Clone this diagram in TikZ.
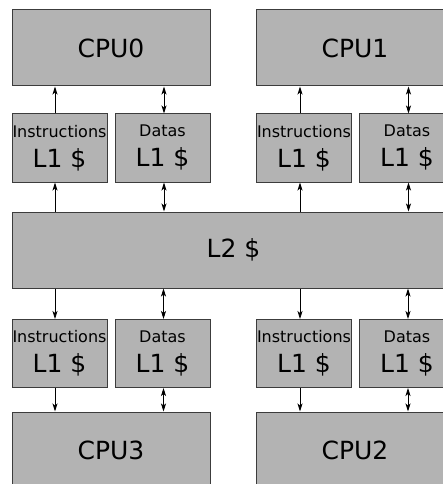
\documentclass[tikz,border=0pt]{standalone}
\usepackage{fontspec}
\setmainfont{DejaVu Sans}
\usetikzlibrary{arrows.meta}
\definecolor{boxgray}{RGB}{179,179,179}
\definecolor{edgegray}{RGB}{60,60,60}
\tikzset{
  unit/.style={draw=edgegray, fill=boxgray, line width=1pt, inner sep=0pt,
    font=\fontsize{25}{30}\selectfont, align=center},
  cpubox/.style={unit, minimum width=198pt, minimum height=76pt},
  cachebox/.style={unit, minimum width=95pt, minimum height=68pt},
  bus/.style={line width=0.8pt, -{Stealth[length=8pt,width=5pt,inset=2pt]}},
  dbus/.style={line width=0.8pt, {Stealth[length=8pt,width=5pt,inset=2pt]}-{Stealth[length=8pt,width=5pt,inset=2pt]}}
}
\newcommand{\smalltxt}[1]{{\fontsize{16}{18}\selectfont #1}}
\begin{document}
\begin{tikzpicture}[x=1pt,y=-1pt]
				\clip (0,0) rectangle (443,484);
				\fill[white] (0,0) rectangle (443,484);
				% processors
				\node[cpubox] (cpu0) at (111,48) {CPU0};
				\node[cpubox] (cpu1) at (355,48) {CPU1};
				\node[cpubox] (cpu3) at (111,450) {CPU3};
				\node[cpubox] (cpu2) at (355,450) {CPU2};
				% shared cache
				\node[unit, minimum width=443pt, minimum height=76pt] (l2) at (233.5,250) {L2 \$};
				% first level caches
				\node[cachebox] (icache0) at (59.5,148) {\smalltxt{Instructions}\\L1 \$};
				\node[cachebox] (dcache0) at (162.5,148) {\smalltxt{Datas}\\L1 \$};
				\node[cachebox] (icache1) at (304,148) {\smalltxt{Instructions}\\L1 \$};
				\node[cachebox] (dcache1) at (407,148) {\smalltxt{Datas}\\L1 \$};
				\node[cachebox] (icache3) at (59.5,353.5) {\smalltxt{Instructions}\\L1 \$};
				\node[cachebox] (dcache3) at (162.5,353.5) {\smalltxt{Datas}\\L1 \$};
				\node[cachebox] (icache2) at (304,353.5) {\smalltxt{Instructions}\\L1 \$};
				\node[cachebox] (dcache2) at (407,353.5) {\smalltxt{Datas}\\L1 \$};
				% top links
				\draw[bus] ([xshift=-4.5pt]icache0.north) -- ([xshift=-4.5pt]icache0.north |- cpu0.south);
				\draw[bus] ([xshift=-4.5pt]icache0.south |- l2.north) -- ([xshift=-4.5pt]icache0.south);
				\draw[dbus] ([xshift=1.5pt]dcache0.north) -- ([xshift=1.5pt]dcache0.north |- cpu0.south);
				\draw[dbus] ([xshift=1.5pt]dcache0.south) -- ([xshift=1.5pt]dcache0.south |- l2.north);
				\draw[bus] ([xshift=-4pt]icache1.north) -- ([xshift=-4pt]icache1.north |- cpu1.south);
				\draw[bus] ([xshift=-4pt]icache1.south |- l2.north) -- ([xshift=-4pt]icache1.south);
				\draw[dbus] ([xshift=1.5pt]dcache1.north) -- ([xshift=1.5pt]dcache1.north |- cpu1.south);
				\draw[dbus] ([xshift=1.5pt]dcache1.south) -- ([xshift=1.5pt]dcache1.south |- l2.north);
				% bottom links
				\draw[bus] ([xshift=-4.5pt]icache3.north |- l2.south) -- ([xshift=-4.5pt]icache3.north);
				\draw[bus] ([xshift=-4.5pt]icache3.south) -- ([xshift=-4.5pt]icache3.south |- cpu3.north);
				\draw[dbus] ([xshift=1pt]dcache3.north) -- ([xshift=1pt]dcache3.north |- l2.south);
				\draw[dbus] ([xshift=1pt]dcache3.south) -- ([xshift=1pt]dcache3.south |- cpu3.north);
				\draw[bus] ([xshift=-4pt]icache2.north |- l2.south) -- ([xshift=-4pt]icache2.north);
				\draw[bus] ([xshift=-4pt]icache2.south) -- ([xshift=-4pt]icache2.south |- cpu2.north);
				\draw[dbus] ([xshift=1pt]dcache2.north) -- ([xshift=1pt]dcache2.north |- l2.south);
				\draw[dbus] ([xshift=1pt]dcache2.south) -- ([xshift=1pt]dcache2.south |- cpu2.north);
\end{tikzpicture}
\end{document}
